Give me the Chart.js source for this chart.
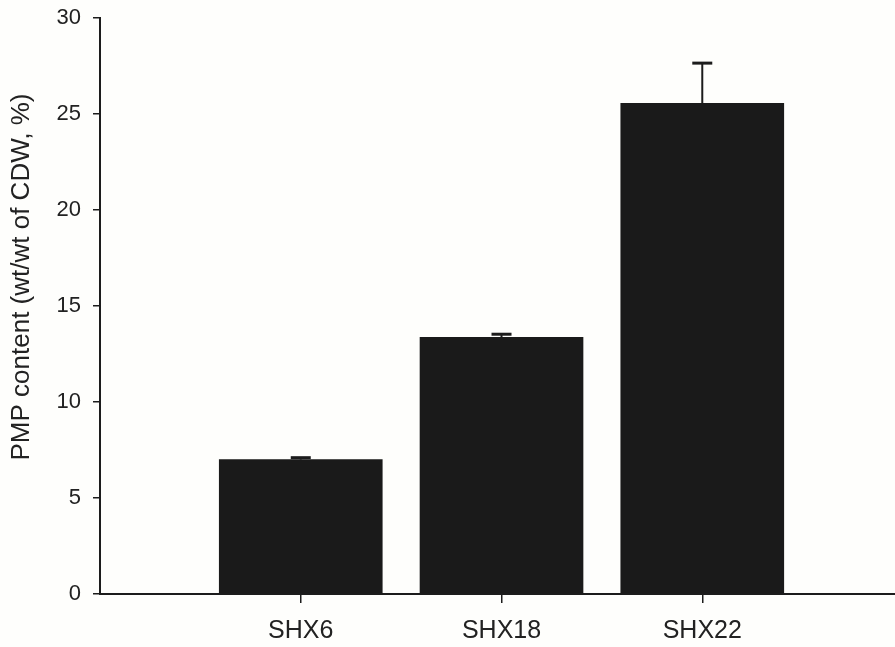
<!DOCTYPE html>
<html>
<head>
<meta charset="utf-8">
<script src="https://cdn.jsdelivr.net/npm/chart.js@4/dist/chart.umd.min.js"></script>
<style>
  html, body { margin: 0; padding: 0; background: #fefefc; }
  #wrap { width: 895px; height: 647px; }
</style>
</head>
<body>
<div id="wrap"><canvas id="grafico"></canvas></div>
<script>
// dados
const categories = ['SHX6', 'SHX18', 'SHX22'];
const positions = [1, 2, 3];
const pmpContent = [7.0, 13.37, 25.55];
const errorUp = [0.1, 0.16, 2.1];
const yTicks = [0, 5, 10, 15, 20, 25, 30];
const yTitle = 'PMP content (wt/wt of CDW, %)';

const inkColor = '#1c1c1c';
const fontFamily = '"Liberation Sans", Arial, sans-serif';

// barras de erro (só para cima)
const errorBars = {
    id: 'errorBars',
    afterDatasetsDraw(chart) {
        const ctx = chart.ctx;
        const yScale = chart.scales.y;
        const meta = chart.getDatasetMeta(0);
        ctx.save();
        ctx.strokeStyle = inkColor;
        meta.data.forEach((bar, i) => {
            const yTop = yScale.getPixelForValue(pmpContent[i] + errorUp[i]);
            ctx.lineWidth = 2;
            ctx.beginPath();
            ctx.moveTo(bar.x, bar.y);
            ctx.lineTo(bar.x, yTop);
            ctx.stroke();
            ctx.lineWidth = 3;
            ctx.beginPath();
            ctx.moveTo(bar.x - 10, yTop);
            ctx.lineTo(bar.x + 10, yTop);
            ctx.stroke();
        });
        ctx.restore();
    }
};

// título do eixo y
const yAxisTitle = {
    id: 'yAxisTitle',
    afterDraw(chart) {
        const ctx = chart.ctx;
        ctx.save();
        ctx.translate(22, 277);
        ctx.rotate(-Math.PI / 2);
        ctx.font = '26px ' + fontFamily;
        ctx.fillStyle = '#222';
        ctx.textAlign = 'center';
        ctx.textBaseline = 'middle';
        ctx.fillText(yTitle, 0, 0);
        ctx.restore();
    }
};

const ctx = document.getElementById('grafico').getContext('2d');
new Chart(ctx, {
    type: 'bar',
    data: {
        datasets: [{
            data: positions.map((p, i) => ({ x: p, y: pmpContent[i] })),
            backgroundColor: '#1a1a1a',
            borderWidth: 0,
            barThickness: 163
        }]
    },
    options: {
        responsive: true,
        maintainAspectRatio: false,
        animation: false,
        layout: { padding: { top: 18, right: 0, left: 0, bottom: 0 } },
        plugins: {
            legend: { display: false },
            tooltip: { enabled: false }
        },
        scales: {
            x: {
                type: 'linear',
                min: 0,
                max: 3.96,
                offset: false,
                afterBuildTicks: (scale) => { scale.ticks = positions.map(v => ({ value: v })); },
                afterFit: (scale) => { scale.height = 53; scale.paddingLeft = 0; scale.paddingRight = 0; },
                ticks: {
                    callback: (v) => categories[positions.indexOf(v)],
                    color: '#222',
                    font: { family: fontFamily, size: 25 },
                    padding: 13,
                    maxRotation: 0,
                    autoSkip: false
                },
                grid: { offset: false, drawOnChartArea: false, tickLength: 9, color: inkColor, lineWidth: 1.5 },
                border: { color: inkColor, width: 2 }
            },
            y: {
                min: 0,
                max: 30,
                afterBuildTicks: (scale) => { scale.ticks = yTicks.map(v => ({ value: v })); },
                afterFit: (scale) => { scale.width = 100; scale.paddingTop = 0; scale.paddingBottom = 0; },
                ticks: {
                    color: '#222',
                    font: { family: fontFamily, size: 22 },
                    padding: 12
                },
                grid: { drawOnChartArea: false, tickLength: 7, color: inkColor, lineWidth: 1.5 },
                border: { color: inkColor, width: 2 }
            }
        }
    },
    plugins: [errorBars, yAxisTitle]
});
</script>
</body>
</html>
